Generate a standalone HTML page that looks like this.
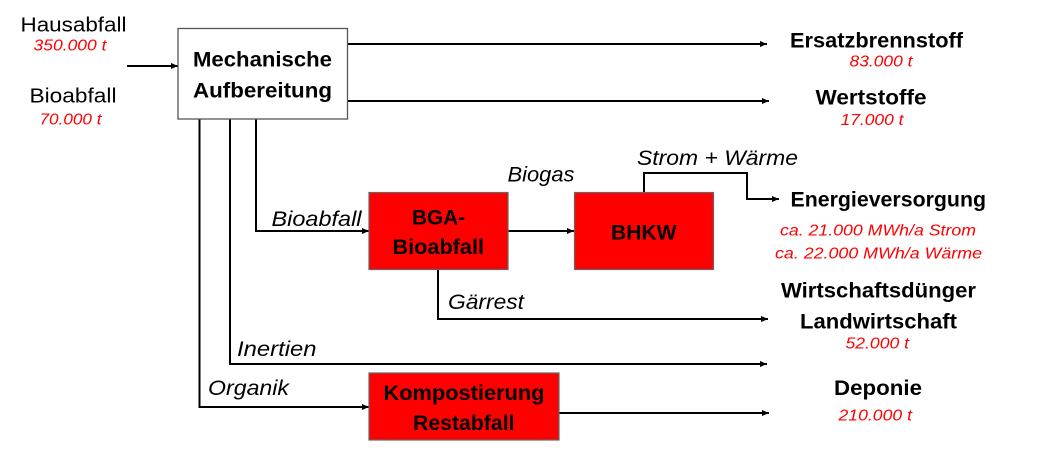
<!DOCTYPE html>
<html><head><meta charset="utf-8"><style>
html,body{margin:0;padding:0;background:#fff;}
svg{display:block;}
text{font-family:"Liberation Sans",Arial,sans-serif;}
.b{font-weight:bold;font-size:21px;fill:#000;}
.r{font-style:italic;fill:#ff0000;font-size:16px;}
.i{font-style:italic;fill:#000;font-size:21px;}
.n{fill:#000;font-size:20px;}
</style></head><body>
<svg width="1038" height="453" viewBox="0 0 1038 453" xmlns="http://www.w3.org/2000/svg">
<defs>
<marker id="a" markerWidth="8" markerHeight="8" refX="7" refY="4" orient="auto" markerUnits="userSpaceOnUse">
<path d="M0,1 L7,4 L0,7 Z" fill="#000"/>
</marker>
</defs>
<g stroke="#000" stroke-width="2" fill="none">
<line x1="127" y1="66" x2="178" y2="66" marker-end="url(#a)"/>
<line x1="348" y1="44" x2="767" y2="44" marker-end="url(#a)"/>
<line x1="348" y1="101" x2="769" y2="101" marker-end="url(#a)"/>
<polyline points="256,119 256,231 369,231" marker-end="url(#a)"/>
<polyline points="230,119 230,364 767,364" marker-end="url(#a)"/>
<polyline points="199.5,119 199.5,407 369,407" marker-end="url(#a)"/>
<line x1="508" y1="231" x2="574" y2="231" marker-end="url(#a)"/>
<polyline points="644,192 644,173 747,173 747,199 779,199" marker-end="url(#a)"/>
<polyline points="438,269 438,319 768,319" marker-end="url(#a)"/>
<line x1="559" y1="413" x2="769" y2="413" marker-end="url(#a)"/>
</g>
<rect x="178" y="28.5" width="169.5" height="90.5" fill="#fff" stroke="#555" stroke-width="1.3"/>
<rect x="369" y="192.5" width="139" height="77" fill="#ff0000" stroke="#666" stroke-width="1.2"/>
<rect x="574.5" y="192.5" width="139" height="77" fill="#ff0000" stroke="#666" stroke-width="1.2"/>
<rect x="369" y="373" width="190" height="67" fill="#ff0000" stroke="#666" stroke-width="1.2"/>

<text class="n" x="20.5" y="31.7" textLength="106" lengthAdjust="spacingAndGlyphs">Hausabfall</text>
<text class="r" x="33.5" y="50.5" textLength="73" lengthAdjust="spacingAndGlyphs">350.000 t</text>
<text class="n" x="29.5" y="102.7" textLength="87" lengthAdjust="spacingAndGlyphs">Bioabfall</text>
<text class="r" x="39.5" y="124.3" textLength="62" lengthAdjust="spacingAndGlyphs">70.000 t</text>

<text class="b" x="193" y="66.7" font-size="20" textLength="139" lengthAdjust="spacingAndGlyphs">Mechanische</text>
<text class="b" x="193" y="97.3" font-size="20" textLength="139" lengthAdjust="spacingAndGlyphs">Aufbereitung</text>

<text class="b" x="790" y="47.3" font-size="21" textLength="173" lengthAdjust="spacingAndGlyphs">Ersatzbrennstoff</text>
<text class="r" x="849.5" y="66.7" textLength="63" lengthAdjust="spacingAndGlyphs">83.000 t</text>
<text class="b" x="815.5" y="104.3" font-size="21" textLength="111" lengthAdjust="spacingAndGlyphs">Wertstoffe</text>
<text class="r" x="840.5" y="125" textLength="63" lengthAdjust="spacingAndGlyphs">17.000 t</text>

<text class="i" x="637" y="165" textLength="161" lengthAdjust="spacingAndGlyphs">Strom + Wärme</text>
<text class="b" x="790.5" y="206.7" font-size="21" textLength="195.5" lengthAdjust="spacingAndGlyphs">Energieversorgung</text>
<text class="r" x="780" y="235.7" font-size="18" textLength="196" lengthAdjust="spacingAndGlyphs">ca. 21.000 MWh/a Strom</text>
<text class="r" x="775" y="258.3" font-size="18" textLength="207" lengthAdjust="spacingAndGlyphs">ca. 22.000 MWh/a Wärme</text>
<text class="b" x="781" y="297.7" font-size="21" textLength="195" lengthAdjust="spacingAndGlyphs">Wirtschaftsdünger</text>
<text class="b" x="800" y="328.3" font-size="21" textLength="157" lengthAdjust="spacingAndGlyphs">Landwirtschaft</text>
<text class="r" x="845.5" y="348.3" textLength="63.5" lengthAdjust="spacingAndGlyphs">52.000 t</text>
<text class="b" x="834" y="395" font-size="21" textLength="88" lengthAdjust="spacingAndGlyphs">Deponie</text>
<text class="r" x="838.5" y="420.7" textLength="73.5" lengthAdjust="spacingAndGlyphs">210.000 t</text>

<text class="i" x="507.5" y="181.7" textLength="67" lengthAdjust="spacingAndGlyphs">Biogas</text>
<text class="i" x="271.5" y="226" textLength="90" lengthAdjust="spacingAndGlyphs">Bioabfall</text>
<text class="b" x="412" y="224.5" textLength="53" lengthAdjust="spacingAndGlyphs">BGA-</text>
<text class="b" x="392.5" y="254" textLength="91.5" lengthAdjust="spacingAndGlyphs">Bioabfall</text>
<text class="b" x="611" y="239.3" textLength="65.5" lengthAdjust="spacingAndGlyphs">BHKW</text>
<text class="i" x="448" y="309" textLength="76" lengthAdjust="spacingAndGlyphs">Gärrest</text>
<text class="i" x="237" y="356" textLength="79.5" lengthAdjust="spacingAndGlyphs">Inertien</text>
<text class="i" x="208" y="395" textLength="81" lengthAdjust="spacingAndGlyphs">Organik</text>
<text class="b" x="383.5" y="400" textLength="161" lengthAdjust="spacingAndGlyphs">Kompostierung</text>
<text class="b" x="413" y="430" textLength="101.5" lengthAdjust="spacingAndGlyphs">Restabfall</text>
</svg>
</body></html>
